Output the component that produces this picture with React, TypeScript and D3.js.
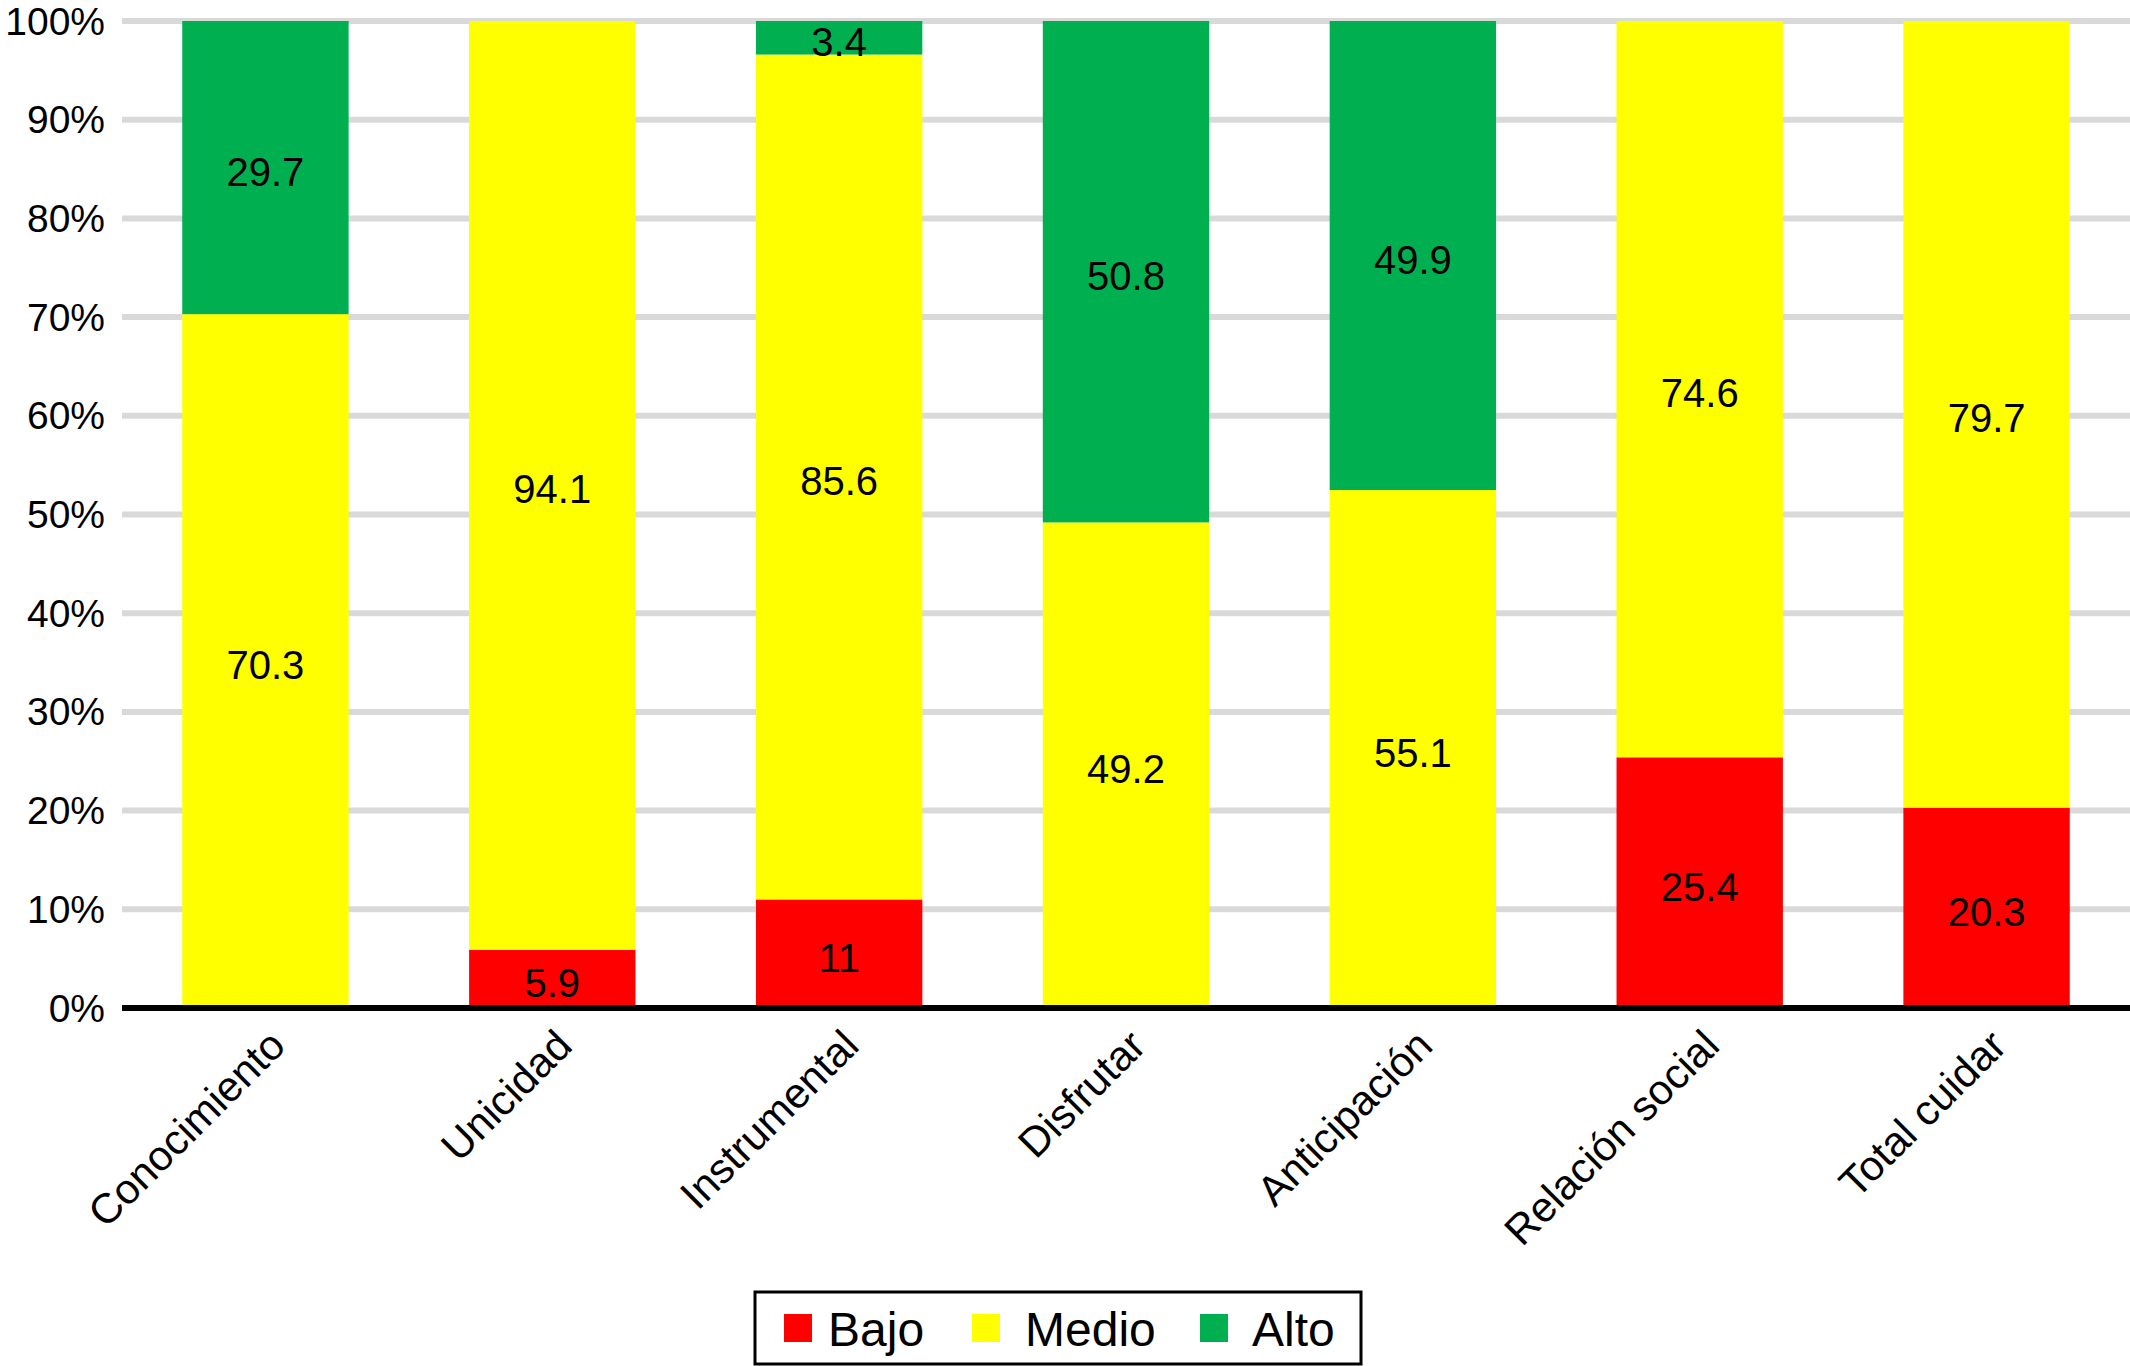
import * as d3 from "d3";

const categories = [
  "Conocimiento",
  "Unicidad",
  "Instrumental",
  "Disfrutar",
  "Anticipación",
  "Relación social",
  "Total cuidar",
];
const bajo = [0, 5.9, 11, 0, 0, 25.4, 20.3];
const medio = [70.3, 94.1, 85.6, 49.2, 55.1, 74.6, 79.7];
const alto = [29.7, 0, 3.4, 50.8, 49.9, 0, 0];
const seriesNames = ["Bajo", "Medio", "Alto"];
const seriesColors = ["#ff0000", "#ffff00", "#00b050"];
const yTicks = [0, 10, 20, 30, 40, 50, 60, 70, 80, 90, 100];

const W = 2130;
const H = 1366;
const font = "'Liberation Sans', Arial, sans-serif";

const App = () => {
  const rows = categories.map((c, i) => ({
    cat: c,
    Bajo: bajo[i],
    Medio: medio[i],
    Alto: alto[i],
  }));
  const stacked = d3
    .stack()
    .keys(seriesNames)
    .offset(d3.stackOffsetExpand)(rows as any);

  const x = d3
    .scaleBand()
    .domain(categories)
    .range([122, W])
    .paddingInner(0.42)
    .paddingOuter(0.21);
  const y = d3.scaleLinear().domain([0, 1]).range([1008, 21]);

  // legend layout
  const legX = [784, 972, 1200];
  const legTextX = [828, 1025, 1252];

  return (
    <svg
      width={W}
      height={H}
      style={{ position: "absolute", left: 0, top: 0, background: "#fff" }}
      fontFamily={font}
    >
      {yTicks.map((t) => (
        <line
          key={"g" + t}
          x1={122}
          x2={W}
          y1={y(t / 100)}
          y2={y(t / 100)}
          stroke="#d9d9d9"
          strokeWidth={6}
        />
      ))}
      {stacked.map((s, si) =>
        s.map((d, i) => {
          const v = (rows[i] as any)[seriesNames[si]];
          if (!v) return null;
          return (
            <rect
              key={si + "-" + i}
              x={x(categories[i])}
              width={x.bandwidth()}
              y={y(d[1])}
              height={y(d[0]) - y(d[1])}
              fill={seriesColors[si]}
            />
          );
        })
      )}
      {stacked.map((s, si) =>
        s.map((d, i) => {
          const v = (rows[i] as any)[seriesNames[si]];
          if (!v) return null;
          return (
            <text
              key={"l" + si + "-" + i}
              x={x(categories[i])! + x.bandwidth() / 2}
              y={(y(d[0]) + y(d[1])) / 2 + 4}
              textAnchor="middle"
              dominantBaseline="central"
              fontSize={40}
              fill="#000"
            >
              {v}
            </text>
          );
        })
      )}
      <line x1={122} x2={W} y1={y(0)} y2={y(0)} stroke="#000" strokeWidth={6} />
      {yTicks.map((t) => (
        <text
          key={"t" + t}
          x={105}
          y={y(t / 100)}
          textAnchor="end"
          dominantBaseline="central"
          fontSize={39}
          fill="#000"
        >
          {t + "%"}
        </text>
      ))}
      {categories.map((c) => {
        const cx = x(c)! + x.bandwidth() / 2 + 22;
        const cy = 1048;
        return (
          <text
            key={"x" + c}
            x={cx}
            y={cy}
            textAnchor="end"
            fontSize={42}
            fill="#000"
            transform={`rotate(-45 ${cx} ${cy})`}
          >
            {c}
          </text>
        );
      })}
      <rect
        x={755}
        y={1292}
        width={606}
        height={72}
        fill="#fff"
        stroke="#000"
        strokeWidth={3}
      />
      {seriesNames.map((n, i) => (
        <g key={"leg" + n}>
          <rect x={legX[i]} y={1314} width={28} height={28} fill={seriesColors[i]} />
          <text
            x={legTextX[i]}
            y={1329}
            dominantBaseline="central"
            fontSize={48}
            fill="#000"
          >
            {n}
          </text>
        </g>
      ))}
    </svg>
  );
};

export default App;
